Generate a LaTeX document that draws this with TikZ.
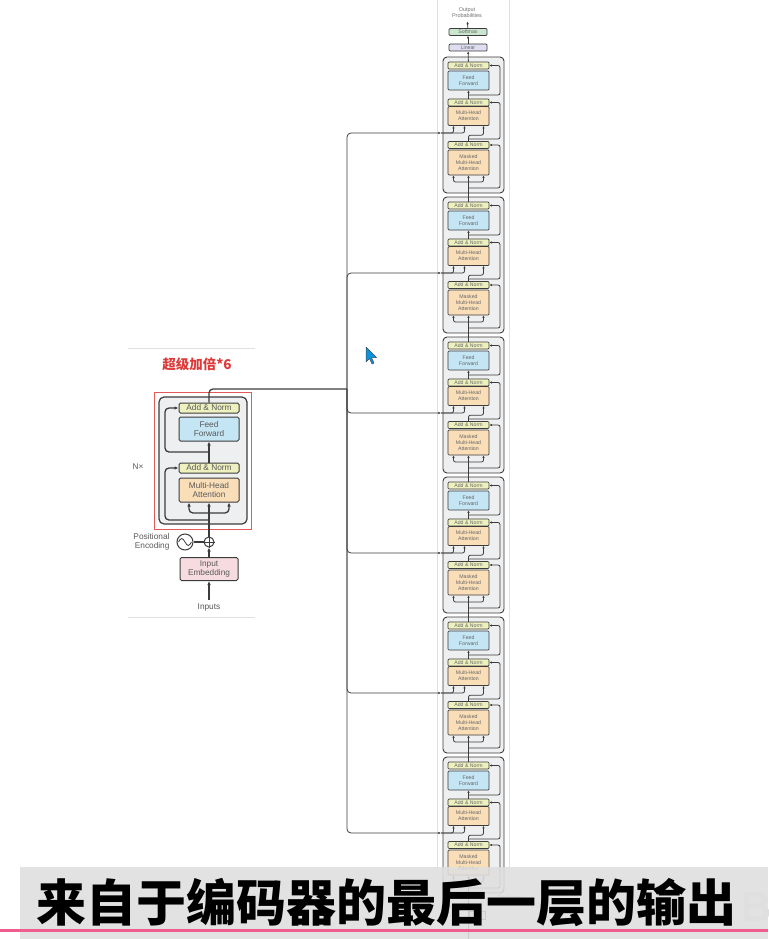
\documentclass[tikz,border=0pt]{standalone}
\usepackage{fontspec}
\setmainfont{Liberation Sans}
\newfontfamily\cjk{Noto Sans CJK SC}
\usetikzlibrary{arrows.meta}
\definecolor{addc}{RGB}{238,241,190}
\definecolor{ffc}{RGB}{196,229,244}
\definecolor{mhac}{RGB}{250,222,184}
\definecolor{embc}{RGB}{246,220,224}
\definecolor{smc}{RGB}{202,230,207}
\definecolor{linc}{RGB}{222,222,240}
\definecolor{boxc}{RGB}{238,239,240}
\definecolor{titlered}{RGB}{222,58,58}
\definecolor{pinkline}{RGB}{240,92,142}
\definecolor{linec}{RGB}{60,60,60}
\begin{document}
\begin{tikzpicture}[x=1pt, y=-1pt, font=\fontsize{8.3}{9.3}\selectfont]
	\tikzset{
		ebox/.style={draw=linec, line width=1pt, rounded corners=1.5pt, minimum width=60pt, inner sep=0pt, align=center, text=black!65},
		eadd/.style={ebox, fill=addc, minimum height=10pt},
		eff/.style={ebox, fill=ffc, minimum height=24pt},
		emha/.style={ebox, fill=mhac, minimum height=24pt},
		eemb/.style={ebox, fill=embc, minimum width=58pt, minimum height=23pt},
		eline/.style={draw=linec, line width=1.3pt},
		earr/.style={eline, -{Latex[length=4pt,width=3.5pt]}},
		dbox/.style={draw=linec, line width=0.7pt, rounded corners=1pt, minimum width=41pt, inner sep=0pt, align=center, text=black!60, font=\fontsize{5.2}{5.9}\selectfont},
		dadd/.style={dbox, fill=addc, minimum height=7pt},
		dff/.style={dbox, fill=ffc, minimum height=19pt},
		dmha/.style={dbox, fill=mhac, minimum height=19pt},
		dmm/.style={dbox, fill=mhac, minimum height=25pt},
		dline/.style={draw=linec, line width=0.8pt},
		darr/.style={dline, -{Latex[length=2.6pt,width=2.4pt]}},
		faint/.style={draw=black!12, line width=0.6pt}
	}
	\fill[white] (0,0) rectangle (768,939);
	\useasboundingbox (0,0) rectangle (768,939);
	% paper figure edges
	\draw[faint] (128,348) -- (255,348);
	\draw[faint] (128,617) -- (255,617);
	\draw[faint] (437,0) -- (437,868);
	\draw[faint] (509,0) -- (509,868);
	% encoder
	\node[font=\cjk\bfseries\fontsize{13.5}{14}\selectfont, text=titlered] (title) at (197,364) {超级加倍*6};
	\node[draw=titlered!85, line width=1pt, minimum width=97pt, minimum height=137pt] (redbox) at (202.5,460.5) {};
	\node[draw=linec, fill=boxc, line width=1.2pt, rounded corners=5pt, minimum width=88pt, minimum height=127pt] (encbox) at (203,460.5) {};
	\node[eadd] (ean2) at (209,408) {Add \& Norm};
	\node[eff] (eff) at (209,429) {Feed\\Forward};
	\node[eadd] (ean1) at (209,468) {Add \& Norm};
	\node[emha] (emha) at (209,490) {Multi-Head\\Attention};
	\node[eemb] (eemb) at (209,569) {Input\\Embedding};
	\node[text=black!65] (inp) at (209,607) {Inputs};
	\node[text=black!65] (nx) at (138,467) {N×};
	\node[anchor=east, align=right, text=black!65] (petxt) at (173,541.5) {Positional\\Encoding};
	\node[circle, draw=linec, line width=1pt, minimum size=16pt, inner sep=0pt] (pe) at (185,542) {};
	\node[circle, draw=linec, line width=1pt, minimum size=10pt, inner sep=0pt] (plus) at (209,542) {};
	\draw[linec, line width=0.8pt] (178.5,542) sin (181.75,538.5) cos (185,542) sin (188.25,545.5) cos (191.5,542);
	\draw[linec, line width=0.8pt] (plus.north) -- (plus.south) (plus.west) -- (plus.east);
	\draw[eline] (pe) -- (plus);
	\draw[earr] (inp) -- (eemb);
	\draw[earr] (eemb) -- (plus);
	\draw[earr] (plus.north) -- (emha.south);
	\draw[earr, rounded corners=4pt] (209,513) -| ([xshift=-20pt]emha.south);
	\draw[earr, rounded corners=4pt] (209,513) -| ([xshift=20pt]emha.south);
	\draw[earr, rounded corners=4pt] (209,520) -| (165,468) -- (ean1.west);
	\draw[earr] (ean1) -- (eff);
	\draw[earr, rounded corners=4pt] (209,452) -| (165,408) -- (ean2.west);
	\coordinate (eout) at (347,389);
	\draw[eline, rounded corners=4pt] (ean2.north) |- (eout);
	% decoder stack
	\node[align=center, text=black!55, font=\fontsize{5.5}{6}\selectfont] (outp) at (467,13) {Output\\Probabilities};
	\node[dbox, fill=smc, minimum width=38pt, minimum height=7pt] (smax) at (468,32) {Softmax};
	\node[dbox, fill=linc, minimum width=38pt, minimum height=7pt] (lin) at (468,47.5) {Linear};
	\draw[darr] (smax) -- (outp);
	\draw[darr] (lin) -- (smax);
	\foreach \i in {1,...,6} {
		\pgfmathsetmacro\t{57+140*(\i-1)}
		\node[draw=linec, fill=boxc, line width=0.9pt, rounded corners=4pt, minimum width=61pt, minimum height=136pt] (blk\i) at (473.5,\t+68) {};
		\node[dadd] (dan3\i) at (468.5,\t+8.5) {Add \& Norm};
		\node[dff] (dff\i) at (468.5,\t+23.5) {Feed\\Forward};
		\node[dadd] (dan2\i) at (468.5,\t+45.5) {Add \& Norm};
		\node[dmha] (dmha\i) at (468.5,\t+59) {Multi-Head\\Attention};
		\node[dadd] (dan1\i) at (468.5,\t+88) {Add \& Norm};
		\node[dmm] (dmm\i) at (468.5,\t+105.5) {Masked\\Multi-Head\\Attention};
		\coordinate (kv\i) at (441,\t+76);
		\draw[darr, rounded corners=4pt] (eout) |- (kv\i);
		\draw[darr, rounded corners=2pt] (kv\i) -| ([xshift=-15pt]dmha\i.south);
		\draw[darr, rounded corners=2pt] (kv\i) -| ([xshift=-4pt]dmha\i.south);
		\draw[darr, rounded corners=2pt] (dan1\i.north) -- ++(0,-6) -| ([xshift=15pt]dmha\i.south);
		\draw[darr, rounded corners=2pt] (468.5,\t+82) -| (500,\t+45.5) -- (dan2\i.east);
		\draw[darr] (dan2\i) -- (dff\i);
		\draw[darr, rounded corners=2pt] (468.5,\t+38) -| (500,\t+8.5) -- (dan3\i.east);
		\draw[darr, rounded corners=2pt] (468.5,\t+125) -| ([xshift=-15pt]dmm\i.south);
		\draw[darr, rounded corners=2pt] (468.5,\t+125) -| ([xshift=15pt]dmm\i.south);
		\draw[darr, rounded corners=2pt] (468.5,\t+131) -| (500,\t+88) -- (dan1\i.east);
	}
	\foreach \i/\j in {1/2,2/3,3/4,4/5,5/6}
		\draw[darr] (dan3\j.north) -- (dmm\i.south);
	\draw[darr] (dan31) -- (lin);
	\node[text=black!50, font=\fontsize{5.5}{6}\selectfont, anchor=west] (posd) at (494,898) {Positional};
	\node[draw=linec, fill=embc, line width=0.6pt, minimum width=16pt, minimum height=8pt, inner sep=0pt] (demb) at (477,915) {};
	\coordinate (decin) at (468.5,939);
	\draw[darr] (decin) -- (dmm6.south);
	% mouse pointer
	\draw[black!70, fill=cyan!80!blue, line width=0.5pt, line join=round] (366,347) -- (366,362) -- (369.5,358.5) -- (372,364) -- (374,363) -- (371.5,357.5) -- (376.5,357.5) -- cycle;
	% subtitle band
	\fill[gray!25, opacity=0.88] (20,867) rectangle (768,939);
	\node[text=white!75!gray, font=\bfseries\fontsize{42}{44}\selectfont, anchor=west] (wmark) at (738,906) {Bi};
	\node[font=\cjk\bfseries\fontsize{50}{51}\selectfont, inner sep=0pt] (subt) at (386,903) {来自于编码器的最后一层的输出};
	\draw[pinkline, line width=3pt] (0,930) -- (768,930);
\end{tikzpicture}
\end{document}
